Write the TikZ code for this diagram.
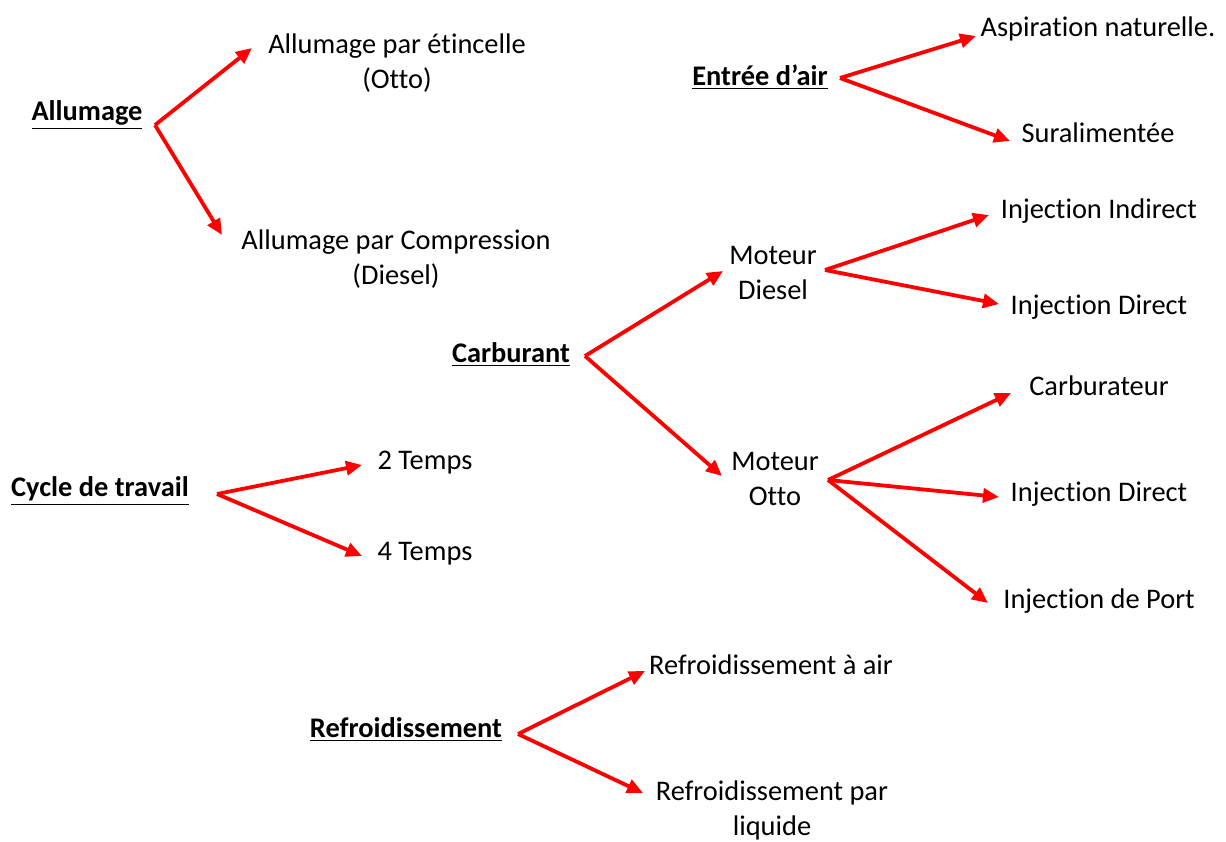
\documentclass[tikz,border=0pt]{standalone}
\usepackage{fontspec}
\setmainfont[Ligatures=NoCommon]{Carlito}
\usetikzlibrary{arrows.meta}
\definecolor{arrowred}{rgb}{1.0,0.0,0.0}

\begin{document}
\begin{tikzpicture}
  [x=0.5pt,y=-0.5pt,
   every node/.style={align=center,inner sep=0pt,yshift=-1.5pt,font=\fontsize{14.2}{17.5}\selectfont},
   titre/.style={font=\fontsize{14.2}{17.5}\selectfont\bfseries},
   fleche/.style={draw=arrowred,line width=1.9pt,-{Triangle[length=8pt,width=7pt]}}]
  \useasboundingbox (0,0) rectangle (1226,841);

  % categories
  \node[titre] (allum) at (87,112)  {\underline{Allumage}};
  \node[titre] (air)   at (760,74)  {\underline{Entrée d’air}};
  \node[titre] (carb)  at (511,352) {\underline{Carburant}};
  \node[titre] (cycle) at (100,488) {\underline{Cycle de travail}};
  \node[titre] (refr)  at (406,727) {\underline{Refroidissement}};

  % branches
  \node (allumA)  at (397,60)   {Allumage par étincelle\\(Otto)};
  \node (allumB)  at (396,256)  {Allumage par Compression\\(Diesel)};
  \node (airA)    at (1098,26)  {Aspiration naturelle.};
  \node (airB)    at (1098,130) {Suralimentée};
  \node (diesel)  at (773,270)  {Moteur\\Diesel};
  \node (otto)    at (775,476)  {Moteur\\Otto};
  \node (dieselA) at (1099,208) {Injection Indirect};
  \node (dieselB) at (1099,304) {Injection Direct};
  \node (ottoA)   at (1099,383) {Carburateur};
  \node (ottoB)   at (1099,491) {Injection Direct};
  \node (ottoC)   at (1099,598) {Injection de Port};
  \node (cycleA)  at (425,460)  {2 Temps};
  \node (cycleB)  at (425,551)  {4 Temps};
  \node (refrA)   at (771,662)  {Refroidissement à air};
  \node (refrB)   at (772,807)  {Refroidissement par\\liquide};

  % points de depart
  \coordinate (fAllum)  at (155,122);
  \coordinate (fAir)    at (840,75);
  \coordinate (fCarb)   at (585,353);
  \coordinate (fDiesel) at (825,267);
  \coordinate (fOtto)   at (828,477);
  \coordinate (fCycle)  at (217,491);
  \coordinate (fRefr)   at (518,731);

  % pointes
  \coordinate (tAllumA)  at (252,45);
  \coordinate (tAllumB)  at (222,232);
  \coordinate (tAirA)    at (976,33);
  \coordinate (tAirB)    at (1010,138);
  \coordinate (tDiesel)  at (723,268);
  \coordinate (tOtto)    at (722,473);
  \coordinate (tDieselA) at (989,212);
  \coordinate (tDieselB) at (999,301);
  \coordinate (tOttoA)   at (1011,390);
  \coordinate (tOttoB)   at (999,494);
  \coordinate (tOttoC)   at (988,600);
  \coordinate (tCycleA)  at (362,462);
  \coordinate (tCycleB)  at (362,553);
  \coordinate (tRefrA)   at (645,668);
  \coordinate (tRefrB)   at (643,790);

  \foreach \from/\to in {fAllum/tAllumA,fAllum/tAllumB,fAir/tAirA,fAir/tAirB,
      fCarb/tDiesel,fCarb/tOtto,fDiesel/tDieselA,fDiesel/tDieselB,
      fOtto/tOttoA,fOtto/tOttoB,fOtto/tOttoC,fCycle/tCycleA,fCycle/tCycleB,
      fRefr/tRefrA,fRefr/tRefrB}
    \draw[fleche] (\from) -- (\to);

\end{tikzpicture}
\end{document}
